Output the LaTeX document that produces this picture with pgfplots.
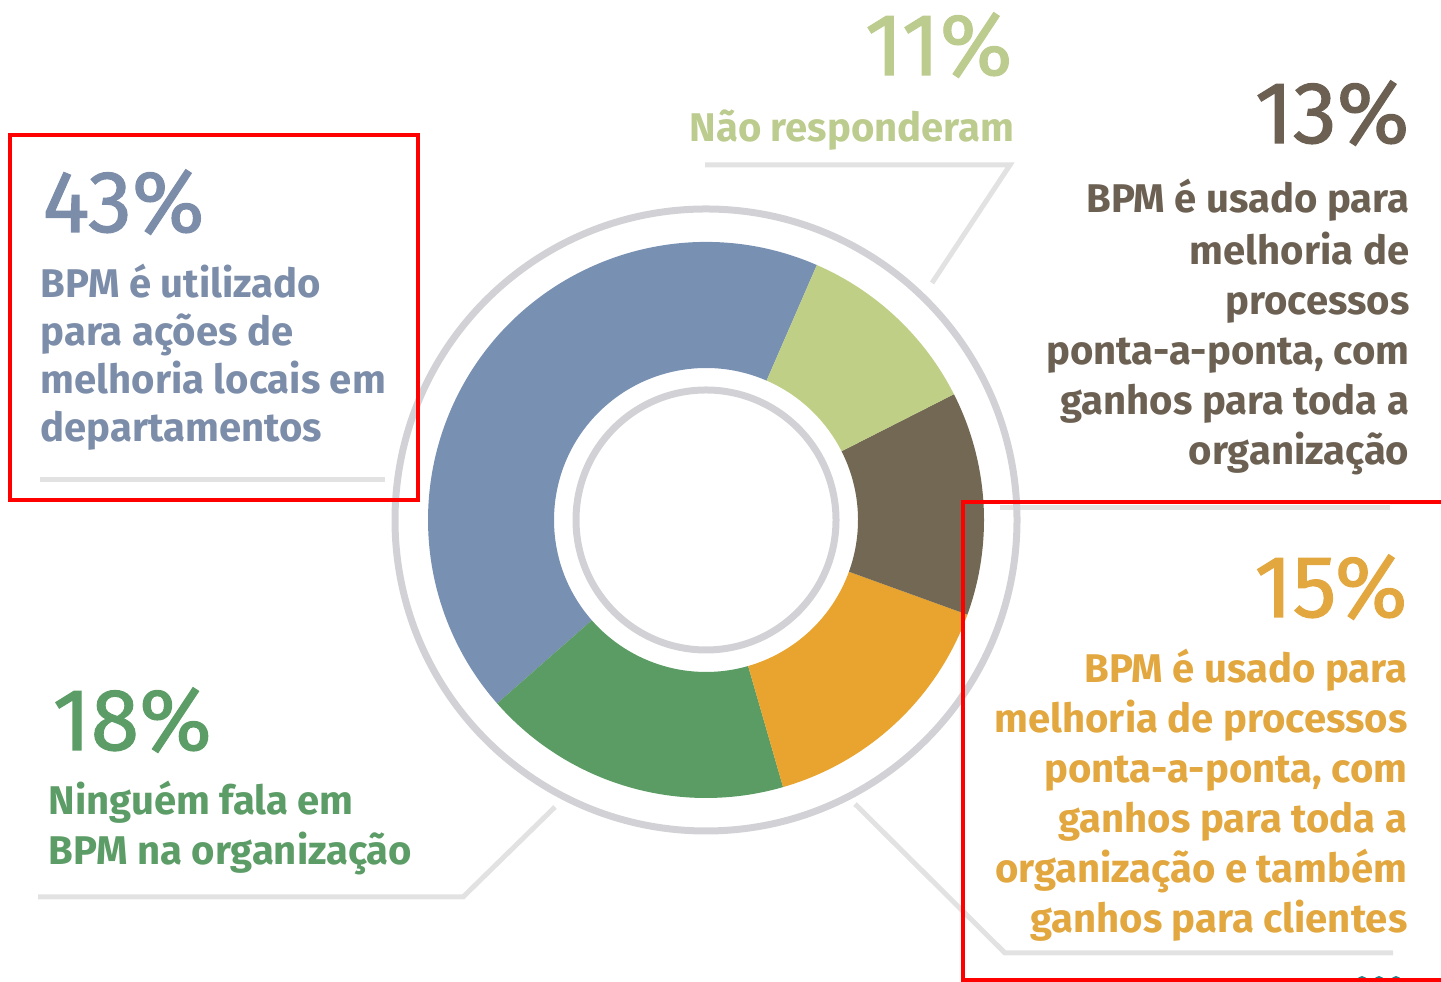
\documentclass[border=0pt]{standalone}
\usepackage{pgfplots}
\pgfplotsset{compat=1.18}
\usepackage{pgfplotstable}
\usepackage{fontspec}
\setmainfont{Fira Sans}
\newfontfamily\numfamily{Fira Sans}[FakeBold=1.2]
\definecolor{cblue}{HTML}{7890B2}
\definecolor{cgreen}{HTML}{5A9C63}
\definecolor{corange}{HTML}{E8A42F}
\definecolor{cbrown}{HTML}{736853}
\definecolor{clight}{HTML}{C0CF86}
\definecolor{tblue}{HTML}{7C8DAA}
\definecolor{tlight}{HTML}{BCCB8E}
\definecolor{tbrown}{HTML}{6B6052}
\definecolor{torange}{HTML}{E2A73F}
\definecolor{tgreen}{HTML}{5C9C66}
\definecolor{ringgray}{HTML}{D2D2D6}
\definecolor{leadgray}{HTML}{E2E2E2}
\definecolor{tealdot}{HTML}{2E7F8C}
\pgfplotstableread{
name value col
Locais 43 cblue
Ninguem 18 cgreen
Clientes 15 corange
Organizacao 13 cbrown
NaoResp 11 clight
}\donut
\newcommand\bigfont{\numfamily\fontsize{25pt}{25pt}\selectfont}
\newcommand\bodyfont{\fontsize{11.4pt}{14pt}\selectfont\bfseries}
\newcommand\Lnode[5]{\node[anchor=base west,inner sep=0pt,text=#1,font=#2] at (axis cs:#3,#4) {#5};}
\newcommand\Rnode[5]{\node[anchor=base east,inner sep=0pt,text=#1,font=#2] at (axis cs:#3,#4) {#5};}
\begin{document}
\begin{tikzpicture}
\begin{axis}[at={(0,0)},anchor=south west,width=144.1mm,height=98.2mm,scale only axis,
  xmin=0,xmax=1441,ymin=0,ymax=982,hide axis,clip=true]
\coordinate (C) at (axis cs:706,462);
% leader lines
\draw[leadgray,line width=0.5mm] (axis cs:705,817) -- (axis cs:1010,817) -- (axis cs:932,699);
\draw[leadgray,line width=0.5mm] (axis cs:40,502) -- (axis cs:385,502);
\draw[leadgray,line width=0.5mm] (axis cs:1000,474) -- (axis cs:1390,474);
\draw[leadgray,line width=0.5mm] (axis cs:38,85) -- (axis cs:463,85) -- (axis cs:555,175);
\draw[leadgray,line width=0.5mm] (axis cs:855,178) -- (axis cs:1005,29) -- (axis cs:1393,29);
% rings
\draw[ringgray,line width=0.7mm] (C) circle[radius=31.1mm];
\draw[ringgray,line width=0.7mm] (C) circle[radius=13.0mm];
% donut slices from data
\pgfmathsetmacro\cum{66.5}
\pgfplotsforeachungrouped \i in {0,...,4}{%
  \pgfplotstablegetelem{\i}{value}\of\donut \let\val\pgfplotsretval
  \pgfplotstablegetelem{\i}{col}\of\donut \let\col\pgfplotsretval
  \pgfmathsetmacro\aa{\cum}%
  \pgfmathsetmacro\bb{\cum+3.6*\val}%
  \edef\cmd{\noexpand\fill[\col] ([shift={(\aa:27.8mm)}]C) arc[start angle=\aa,end angle=\bb,radius=27.8mm] -- ([shift={(\bb:15.2mm)}]C) arc[start angle=\bb,end angle=\aa,radius=15.2mm] -- cycle;}%
  \cmd
  \global\let\cum\bb
}
% texts
\Lnode{tblue}{\bigfont}{42}{750}{43\%}
\Lnode{tblue}{\bodyfont}{40}{684}{BPM é utilizado}
\Lnode{tblue}{\bodyfont}{40}{636}{para ações de}
\Lnode{tblue}{\bodyfont}{40}{588}{melhoria locais em}
\Lnode{tblue}{\bodyfont}{40}{540}{departamentos}
\Rnode{tlight}{\bigfont}{1013}{907}{11\%}
\Rnode{tlight}{\bodyfont}{1015}{840}{Não responderam}
\Rnode{tbrown}{\bigfont}{1410}{839}{13\%}
\Rnode{tbrown}{\bodyfont}{1410}{769}{BPM é usado para}
\Rnode{tbrown}{\bodyfont}{1410}{717}{melhoria de}
\Rnode{tbrown}{\bodyfont}{1410}{667}{processos}
\Rnode{tbrown}{\bodyfont}{1410}{617}{ponta-a-ponta, com}
\Rnode{tbrown}{\bodyfont}{1410}{567}{ganhos para toda a}
\Rnode{tbrown}{\bodyfont}{1410}{517}{organização}
\Rnode{torange}{\bigfont}{1408}{365}{15\%}
\Rnode{torange}{\bodyfont}{1408}{299}{BPM é usado para}
\Rnode{torange}{\bodyfont}{1408}{249}{melhoria de processos}
\Rnode{torange}{\bodyfont}{1408}{199}{ponta-a-ponta, com}
\Rnode{torange}{\bodyfont}{1408}{149}{ganhos para toda a}
\Rnode{torange}{\bodyfont}{1408}{99}{organização e também}
\Rnode{torange}{\bodyfont}{1408}{49}{ganhos para clientes}
\Lnode{tgreen}{\bigfont}{52}{232}{18\%}
\Lnode{tgreen}{\bodyfont}{48}{167}{Ninguém fala em}
\Lnode{tgreen}{\bodyfont}{48}{117}{BPM na organização}
% small teal dots at the bottom edge
\fill[tealdot] (axis cs:1362,1) circle[radius=0.5mm];
\fill[tealdot] (axis cs:1379,1) circle[radius=0.5mm];
\fill[tealdot] (axis cs:1396,1) circle[radius=0.5mm];
% red highlight boxes
\draw[red,line width=0.4mm] (axis cs:10,847) rectangle (axis cs:418,482);
\draw[red,line width=0.4mm] (axis cs:963,480) rectangle (axis cs:1460,2);
\end{axis}
\pgfresetboundingbox
\useasboundingbox (0,0) rectangle (144.1mm,98.2mm);
\end{tikzpicture}
\end{document}
